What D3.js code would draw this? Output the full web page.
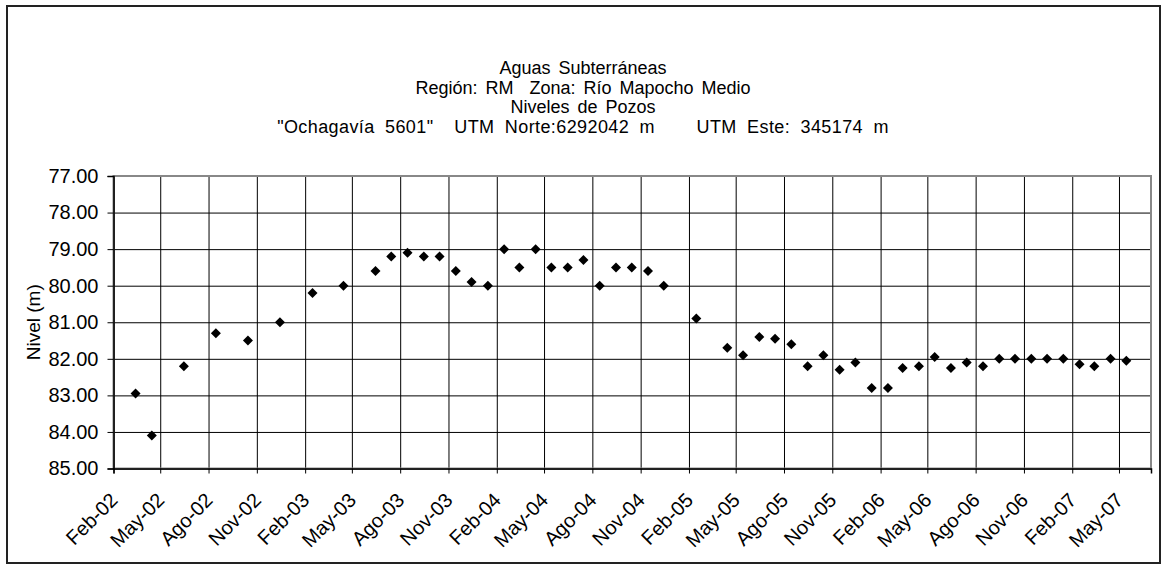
<!DOCTYPE html>
<html lang="es">
<head>
<meta charset="utf-8">
<title>Niveles de Pozos - Ochagavía 5601</title>
<script src="https://cdn.jsdelivr.net/npm/d3@7/dist/d3.min.js"></script>
<style>
  html, body { margin: 0; padding: 0; background: #fff; }
  svg { display: block; font-family: "Liberation Sans", Arial, sans-serif; }
  svg text { white-space: pre; }
</style>
</head>
<body>
<svg id="chart" width="1161" height="565"></svg>
<script>
// Fechas de medición (mediados de mes) y nivel del agua en metros
const fechas = [
  "2002-03-15","2002-04-15","2002-06-15","2002-08-15","2002-10-15","2002-12-15",
  "2003-02-15","2003-04-15","2003-06-15","2003-07-15","2003-08-15","2003-09-15",
  "2003-10-15","2003-11-15","2003-12-15","2004-01-15","2004-02-15","2004-03-15",
  "2004-04-15","2004-05-15","2004-06-15","2004-07-15","2004-08-15","2004-09-15",
  "2004-10-15","2004-11-15","2004-12-15","2005-02-15","2005-04-15","2005-05-15",
  "2005-06-15","2005-07-15","2005-08-15","2005-09-15","2005-10-15","2005-11-15",
  "2005-12-15","2006-01-15","2006-02-15","2006-03-15","2006-04-15","2006-05-15",
  "2006-06-15","2006-07-15","2006-08-15","2006-09-15","2006-10-15","2006-11-15",
  "2006-12-15","2007-01-15","2007-02-15","2007-03-15","2007-04-15","2007-05-15"
];
const niveles = [
  82.95, 84.10, 82.20, 81.30, 81.50, 81.00,
  80.20, 80.00, 79.60, 79.20, 79.10, 79.20,
  79.20, 79.60, 79.90, 80.00, 79.00, 79.50,
  79.00, 79.50, 79.50, 79.30, 80.00, 79.50,
  79.50, 79.60, 80.00, 80.90, 81.70, 81.90,
  81.40, 81.45, 81.60, 82.20, 81.90, 82.30,
  82.10, 82.80, 82.80, 82.25, 82.20, 81.95,
  82.25, 82.10, 82.20, 82.00, 82.00, 82.00,
  82.00, 82.00, 82.15, 82.20, 82.00, 82.05
];

// Eje X: marcas trimestrales
const marcasX = [
  "2002-02-01","2002-05-01","2002-08-01","2002-11-01","2003-02-01","2003-05-01",
  "2003-08-01","2003-11-01","2004-02-01","2004-05-01","2004-08-01","2004-11-01",
  "2005-02-01","2005-05-01","2005-08-01","2005-11-01","2006-02-01","2006-05-01",
  "2006-08-01","2006-11-01","2007-02-01","2007-05-01"
];
const meses = ["Ene","Feb","Mar","Abr","May","Jun","Jul","Ago","Sep","Oct","Nov","Dic"];

// Eje Y: niveles (invertido, 77 arriba)
const marcasY = [77, 78, 79, 80, 81, 82, 83, 84, 85];

const titulo = [
  "Aguas Subterráneas",
  "Región: RM  Zona: Río Mapocho Medio",
  "Niveles de Pozos",
  "\"Ochagavía 5601\"  UTM Norte:6292042 m    UTM Este: 345174 m"
];
const tituloEjeY = "Nivel (m)";

const parseFecha = d3.timeParse("%Y-%m-%d");
const locale = d3.timeFormatLocale({
  dateTime: "%x, %X", date: "%d/%m/%Y", time: "%H:%M:%S",
  periods: ["AM", "PM"],
  days: ["domingo","lunes","martes","miércoles","jueves","viernes","sábado"],
  shortDays: ["dom","lun","mar","mié","jue","vie","sáb"],
  months: ["enero","febrero","marzo","abril","mayo","junio","julio","agosto","septiembre","octubre","noviembre","diciembre"],
  shortMonths: meses
});
const fmtX = locale.format("%b-%y");

const svg = d3.select("#chart");
const plot = { left: 113.5, right: 1151, top: 176, bottom: 468.5 };
const fuente = "\"Liberation Sans\", Arial, sans-serif";

// Marco exterior del gráfico
svg.append("rect")
  .attr("x", 7).attr("y", 6)
  .attr("width", 1153).attr("height", 557)
  .attr("fill", "#fff").attr("stroke", "#222").attr("stroke-width", 2);

// Título (la última línea lleva algo más de espaciado)
svg.append("g")
  .attr("font-size", 18)
  .attr("fill", "#000")
  .selectAll("text")
  .data(titulo)
  .join("text")
  .attr("x", 583)
  .attr("y", (d, i) => 74 + i * 19.6)
  .attr("text-anchor", "middle")
  .attr("word-spacing", (d, i) => i === 3 ? 5 : 3)
  .attr("letter-spacing", (d, i) => i === 3 ? 0.4 : 0)
  .text(d => d);

const x = d3.scaleTime()
  .domain([parseFecha("2002-02-01"), parseFecha("2007-07-01")])
  .range([plot.left, plot.right]);

const y = d3.scaleLinear()
  .domain([77, 85])
  .range([plot.top, plot.bottom]);

const fechasX = marcasX.map(parseFecha);

// Cuadrícula horizontal
svg.append("g")
  .attr("transform", `translate(${plot.left},0)`)
  .call(d3.axisLeft(y).tickValues(marcasY).tickSize(-(plot.right - plot.left)).tickFormat(""))
  .call(g => g.select(".domain").remove())
  .call(g => g.selectAll("line").attr("stroke", "#000").attr("stroke-width", 1));

// Cuadrícula vertical
svg.append("g")
  .attr("transform", `translate(0,${plot.bottom})`)
  .call(d3.axisBottom(x).tickValues(fechasX).tickSize(-(plot.bottom - plot.top)).tickFormat(""))
  .call(g => g.select(".domain").remove())
  .call(g => g.selectAll("line").attr("stroke", "#000").attr("stroke-width", 1));

// Borde del área de trazado
svg.append("rect")
  .attr("x", plot.left).attr("y", plot.top)
  .attr("width", plot.right - plot.left).attr("height", plot.bottom - plot.top)
  .attr("fill", "none").attr("stroke", "#888").attr("stroke-width", 2);

// Eje Y con etiquetas
const ejeY = svg.append("g")
  .attr("transform", `translate(${plot.left},0)`)
  .call(d3.axisLeft(y).tickValues(marcasY).tickSize(6).tickPadding(9).tickFormat(d3.format(".2f")));
ejeY.select(".domain").attr("stroke", "#000").attr("stroke-width", 1.5);
ejeY.selectAll("line").attr("stroke", "#000");
ejeY.selectAll("text")
  .attr("font-size", 20)
  .attr("font-family", fuente)
  .attr("fill", "#000");

// Eje X con etiquetas rotadas
const ejeX = svg.append("g")
  .attr("transform", `translate(0,${plot.bottom})`)
  .call(d3.axisBottom(x).tickValues(fechasX).tickSize(5).tickFormat(fmtX));
ejeX.select(".domain").attr("stroke", "#000").attr("stroke-width", 1.5);
ejeX.selectAll("line").attr("stroke", "#000");
ejeX.selectAll("text")
  .attr("font-size", 20)
  .attr("font-family", fuente)
  .attr("fill", "#000")
  .attr("text-anchor", "end")
  .attr("dy", "0.35em")
  .attr("x", 0).attr("y", 0)
  .attr("transform", "translate(0,28) rotate(-45)");

// Título del eje Y
svg.append("text")
  .attr("transform", `translate(33,${(plot.top + plot.bottom) / 2}) rotate(-90)`)
  .attr("text-anchor", "middle")
  .attr("dy", "0.35em")
  .attr("font-size", 19)
  .text(tituloEjeY);

// Puntos (rombos)
const datos = fechas.map((f, i) => ({ fecha: parseFecha(f), nivel: niveles[i] }));
const rombo = "M0,-5L5,0L0,5L-5,0Z";
svg.append("g")
  .selectAll("path")
  .data(datos)
  .join("path")
  .attr("d", rombo)
  .attr("transform", d => `translate(${x(d.fecha)},${y(d.nivel)})`)
  .attr("fill", "#000");
</script>
</body>
</html>
